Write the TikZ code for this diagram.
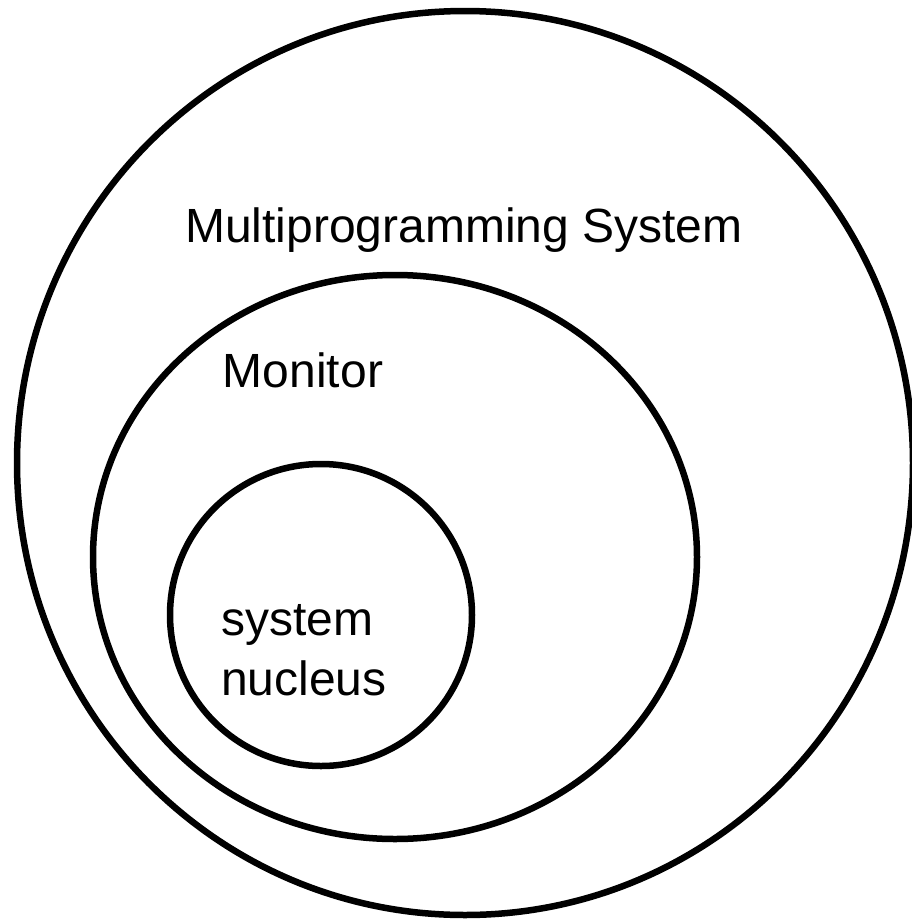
\documentclass[tikz,border=0pt]{standalone}
\usepackage{fontspec}
\setmainfont{Liberation Sans}
\usetikzlibrary{shapes.geometric}
\begin{document}
\begin{tikzpicture}[
		x=1pt, y=-1pt,
		ring/.style={draw, line width=6.5pt, inner sep=0pt},
		txt/.style={font=\fontsize{48}{60}\selectfont, inner sep=0pt}
	]
	\useasboundingbox (0,0) rectangle (912,919);
	\node[ring, ellipse, minimum width=896pt, minimum height=904pt] (multi) at (465,463) {};
	\node[ring, ellipse, minimum width=604pt, minimum height=564pt] (mon) at (395,557) {};
	\node[ring, circle, minimum size=302pt] (nuc) at (321,615) {};
	\node[txt] (multitext) at (464,230) {Multiprogramming System};
	\node[txt] (montext) at (303,370) {Monitor};
	\node[txt, align=left, anchor=west] (nuctext) at (221,650) {system\\nucleus};
\end{tikzpicture}
\end{document}
